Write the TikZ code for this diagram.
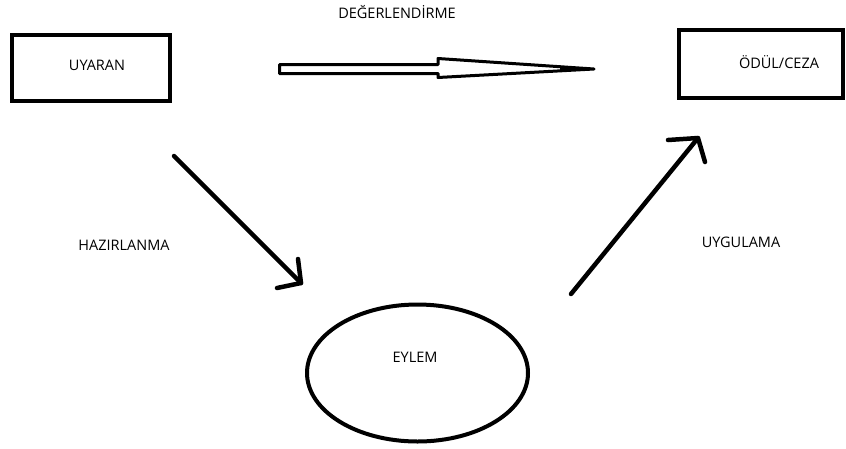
\documentclass[tikz,border=0pt]{standalone}
\usepackage{fontspec}
\setmainfont{Open Sans}
\begin{document}
\begin{tikzpicture}[x=1pt,y=-1pt,
  lbl/.style={font=\fontsize{14.5}{17}\selectfont, text=black, inner sep=0pt},
  boxed/.style={draw, line width=4pt, fill=white},
  oval/.style={draw, line width=4pt, ellipse},
  stroke/.style={line width=4.5pt, line cap=round, line join=round},
  hollow/.style={draw, line width=3pt, fill=white, line join=round}]
  % page frame
  \useasboundingbox (0,0) rectangle (846,448);

  % boxes and the oval
  \draw[boxed] (12,35) rectangle (170,101);
  \node[lbl] (uyaran) at (97,65) {UYARAN};
  \draw[boxed] (679,30) rectangle (843,98);
  \node[lbl] (odul) at (779,62) {ÖDÜL/CEZA};
  \draw[line width=4pt] (417.5,373) ellipse [x radius=110.5, y radius=68.5];
  \node[lbl] (eylem) at (415,357) {EYLEM};

  % labels
  \node[lbl] (deger) at (397,12) {DEĞERLENDİRME};
  \node[lbl] (hazir) at (124,245) {HAZIRLANMA};
  \node[lbl] (uygul) at (741,242) {UYGULAMA};

  % hollow arrow between the boxes
  \coordinate (hs) at (279.5,69);
  \coordinate (ht) at (594,69);
  \draw[hollow] (hs) ++(0,-4.5) -- (438,64.5) -- (438,58.5) -- (ht)
     -- (438,77.5) -- (438,73.5) -- (279.5,73.5) -- cycle;
  \fill (560,66.8) -- (ht) -- (560,71.2) -- cycle;

  % hand-drawn arrow towards the oval
  \coordinate (a1s) at (174,156);
  \coordinate (a1t) at (301,283);
  \draw[stroke] (a1s) -- (a1t);
  \draw[stroke] (277,288) -- (a1t) -- (298,259);

  % hand-drawn arrow towards the reward box
  \coordinate (a2s) at (571,294);
  \coordinate (a2t) at (698,138);
  \draw[stroke] (a2s) -- (a2t);
  \draw[stroke] (668,140) -- (a2t) -- (705,162);
\end{tikzpicture}
\end{document}
